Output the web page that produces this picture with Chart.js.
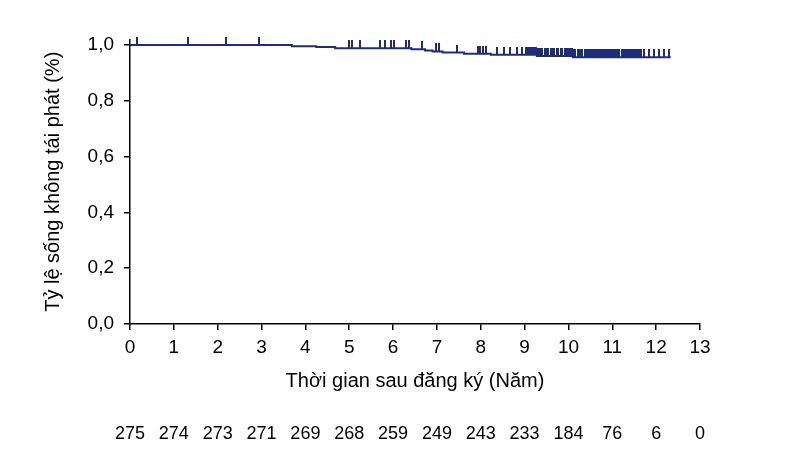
<!DOCTYPE html>
<html>
<head>
<meta charset="utf-8">
<script src="https://cdn.jsdelivr.net/npm/chart.js@4.4.1/dist/chart.umd.min.js"></script>
<style>
  html, body { margin: 0; padding: 0; background: #fff; }
  #wrap { width: 800px; height: 466px; }
</style>
</head>
<body>
<div id="wrap"><canvas id="km" width="800" height="466"></canvas></div>
<script>
// so nguoi con nguy co theo tung nam (0..13)
const yearTicks = [0, 1, 2, 3, 4, 5, 6, 7, 8, 9, 10, 11, 12, 13];
const atRisk = [275, 274, 273, 271, 269, 268, 259, 249, 243, 233, 184, 76, 6, 0];

// thoi diem tai phat va ty le song con lai (doc tu hinh)
const eventTimes = [0, 3.69, 4.25, 4.68, 6.42, 6.73, 6.90, 7.13, 7.62, 8.23, 9.28, 10.10, 12.33];
const survival = [1.000, 0.996, 0.993, 0.989, 0.985, 0.981, 0.977, 0.973, 0.969, 0.965, 0.961, 0.956, 0.956];

// cac ca bi kiem duyet (censored)
const censorTimes = [
  0.15, 1.32, 2.19, 2.94,
  5.00, 5.07, 5.24, 5.70, 5.82, 5.96, 6.03, 6.30, 6.37,
  6.67, 6.99, 7.05, 7.45, 7.93, 7.98, 8.05, 8.13, 8.37, 8.52, 8.66, 8.82, 8.95,
  9.04, 9.08, 9.12, 9.15, 9.19, 9.23, 9.26,
  9.31, 9.35, 9.40, 9.46, 9.50, 9.54, 9.60, 9.63, 9.68, 9.73, 9.77, 9.82, 9.86, 9.91, 9.95, 10.00, 10.04, 10.08,
  10.12, 10.16, 10.21, 10.24, 10.29, 10.32, 10.37, 10.41, 10.44, 10.49, 10.53, 10.56, 10.61, 10.65, 10.68,
  10.73, 10.77, 10.80, 10.85, 10.89, 10.92, 10.97, 11.01, 11.04, 11.09, 11.13, 11.16, 11.21, 11.25, 11.28,
  11.33, 11.37, 11.40, 11.45, 11.49, 11.52, 11.57, 11.61, 11.65,
  11.72, 11.83, 11.95, 12.07, 12.18, 12.29
];

const navy = '#1f2c78';
const fontFam = '"Liberation Sans", Arial, sans-serif';

// gia tri cua duong song o thoi diem t
function survAt(t) {
  let s = survival[0];
  for (let i = 0; i < eventTimes.length; i++) {
    if (eventTimes[i] <= t) s = survival[i];
  }
  return s;
}

// vach dung cho ca kiem duyet (chi nua tren)
const tickImg = document.createElement('canvas');
tickImg.width = 2;
tickImg.height = 16;
const tctx = tickImg.getContext('2d');
tctx.fillStyle = navy;
tctx.fillRect(0, 0, 2, 8);

const ctx = document.getElementById('km').getContext('2d');

new Chart(ctx, {
  type: 'line',
  data: {
    datasets: [
      {
        label: 'KM',
        data: eventTimes.map((t, i) => ({ x: t, y: survival[i] })),
        stepped: 'before',
        borderColor: navy,
        borderWidth: 2,
        pointRadius: 0,
        fill: false
      },
      {
        label: 'Censored',
        type: 'scatter',
        data: censorTimes.map(t => ({ x: t, y: survAt(t) })),
        pointStyle: tickImg,
        pointRadius: 4,
        clip: false
      }
    ]
  },
  options: {
    responsive: false,
    animation: false,
    layout: { padding: { left: 0, right: 100, top: 39.5, bottom: 0 } },
    plugins: {
      legend: { display: false },
      tooltip: { enabled: false }
    },
    scales: {
      x: {
        type: 'linear',
        position: 'bottom',
        weight: 0,
        min: 0,
        max: 13,
        afterBuildTicks: s => { s.ticks = yearTicks.map(v => ({ value: v })); },
        ticks: {
          autoSkip: false,
          maxRotation: 0,
          padding: 6,
          color: '#000',
          font: { family: fontFam, size: 19 },
          callback: v => String(v)
        },
        grid: { drawOnChartArea: false, drawTicks: true, tickLength: 6, color: '#000', lineWidth: 1.5 },
        border: { color: '#000', width: 1.5 },
        title: {
          display: true,
          text: 'Thời gian sau đăng ký (Năm)',
          color: '#000',
          font: { family: fontFam, size: 20 },
          padding: { top: 4, bottom: 4 }
        },
        afterFit: s => { s.height = 73; }
      },
      x2: {
        type: 'linear',
        position: 'bottom',
        weight: 1,
        min: 0,
        max: 13,
        afterBuildTicks: s => { s.ticks = yearTicks.map(v => ({ value: v })); },
        ticks: {
          autoSkip: false,
          maxRotation: 0,
          padding: 26,
          color: '#000',
          font: { family: fontFam, size: 18 },
          callback: (v, i) => String(atRisk[i])
        },
        grid: { display: false, drawTicks: false },
        border: { display: false },
        afterFit: s => { s.height = 69; }
      },
      y: {
        min: 0,
        max: 1.02,
        ticks: {
          stepSize: 0.2,
          includeBounds: false,
          padding: 10,
          color: '#000',
          font: { family: fontFam, size: 19 },
          callback: v => v.toFixed(1).replace('.', ',')
        },
        grid: { drawOnChartArea: false, drawTicks: true, tickLength: 6, color: '#000', lineWidth: 1.5 },
        border: { color: '#000', width: 1.5 },
        title: {
          display: true,
          text: 'Tỷ lệ sống không tái phát (%)',
          color: '#000',
          font: { family: fontFam, size: 20 },
          padding: { top: 41, bottom: 0 }
        },
        afterFit: s => { s.width = 130; }
      }
    }
  }
});
</script>
</body>
</html>
